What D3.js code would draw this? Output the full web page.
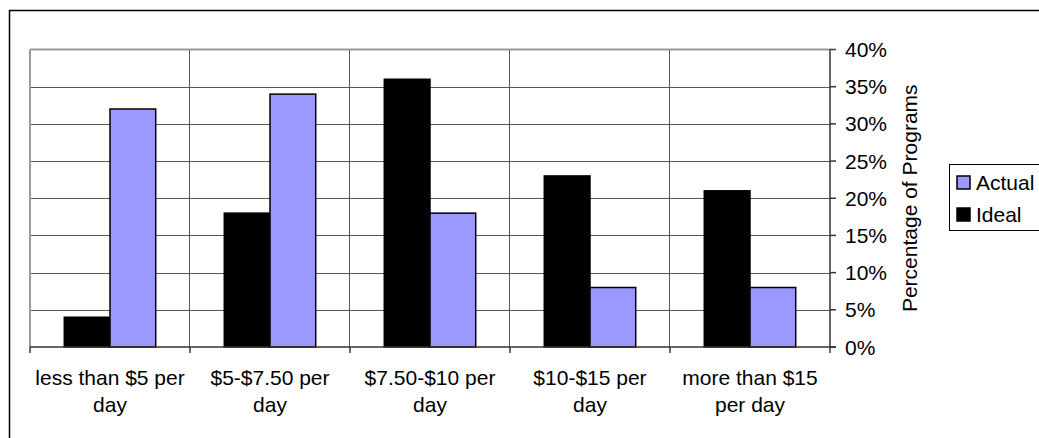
<!DOCTYPE html>
<html>
<head>
<meta charset="utf-8">
<script src="https://cdn.jsdelivr.net/npm/d3@7"></script>
<style>
  body { margin: 0; background: #fff; }
  text { font-family: "Liberation Sans", Arial, sans-serif; fill: #000; }
</style>
</head>
<body>
<div id="chart"></div>
<script>
// data
const categories = ["less than $5 per day", "$5-$7.50 per day", "$7.50-$10 per day", "$10-$15 per day", "more than $15 per day"];
const categoryLines = [["less than $5 per", "day"], ["$5-$7.50 per", "day"], ["$7.50-$10 per", "day"], ["$10-$15 per", "day"], ["more than $15", "per day"]];
const series = ["Ideal", "Actual"];
const idealValues = [0.04, 0.18, 0.36, 0.23, 0.21];
const actualValues = [0.32, 0.34, 0.18, 0.08, 0.08];
const yTicks = [0, 0.05, 0.1, 0.15, 0.2, 0.25, 0.3, 0.35, 0.4];
const legendItems = ["Actual", "Ideal"];

const width = 1039;
const height = 438;
const colors = { Ideal: "#000000", Actual: "#9999ff" };
const fontSize = "21px";

const svg = d3.select("#chart").append("svg")
  .attr("width", width)
  .attr("height", height);

// outer chart border (runs off the right / bottom edges)
svg.append("rect")
  .attr("x", 9.5).attr("y", 10.5)
  .attr("width", 1040).attr("height", 440)
  .attr("fill", "none").attr("stroke", "#000").attr("stroke-width", 1.5);

const plotLeft = 30, plotRight = 830, plotTop = 49.5, plotBottom = 347;

const x0 = d3.scaleBand().domain(categories).range([plotLeft, plotRight]).padding(0);
const x1 = d3.scaleBand().domain(series).range([0, x0.bandwidth()]).paddingInner(0).paddingOuter(0.75);
const y = d3.scaleLinear().domain([0, 0.4]).range([plotBottom, plotTop]);

// horizontal gridlines
svg.append("g")
  .selectAll("line")
  .data(yTicks.slice(1, -1))
  .enter().append("line")
  .attr("x1", plotLeft).attr("x2", plotRight)
  .attr("y1", d => Math.round(y(d)) + 0.5).attr("y2", d => Math.round(y(d)) + 0.5)
  .attr("stroke", "#555").attr("stroke-width", 1);

// vertical dividers between categories
svg.append("g")
  .selectAll("line")
  .data(categories.slice(1))
  .enter().append("line")
  .attr("x1", d => Math.round(x0(d)) - 0.5).attr("x2", d => Math.round(x0(d)) - 0.5)
  .attr("y1", plotTop).attr("y2", plotBottom)
  .attr("stroke", "#555").attr("stroke-width", 1);

// plot area border, left and top are gray
svg.append("line")
  .attr("x1", plotLeft).attr("x2", plotRight)
  .attr("y1", plotTop).attr("y2", plotTop)
  .attr("stroke", "#999").attr("stroke-width", 2);
svg.append("line")
  .attr("x1", plotLeft).attr("x2", plotLeft)
  .attr("y1", plotTop).attr("y2", plotBottom)
  .attr("stroke", "#999").attr("stroke-width", 2);

// bars
const rows = categories.map((c, i) => ({ cat: c, Ideal: idealValues[i], Actual: actualValues[i] }));
svg.append("g")
  .selectAll("g")
  .data(rows)
  .enter().append("g")
  .attr("transform", d => "translate(" + x0(d.cat) + ",0)")
  .selectAll("rect")
  .data(d => series.map(s => ({ key: s, value: d[s] })))
  .enter().append("rect")
  .attr("x", d => x1(d.key))
  .attr("y", d => y(d.value))
  .attr("width", x1.bandwidth())
  .attr("height", d => plotBottom - y(d.value))
  .attr("fill", d => colors[d.key])
  .attr("stroke", "#000")
  .attr("stroke-width", 1.5);

// right axis
const yAxis = svg.append("g");
yAxis.append("line")
  .attr("x1", plotRight).attr("x2", plotRight)
  .attr("y1", plotTop).attr("y2", plotBottom)
  .attr("stroke", "#333").attr("stroke-width", 1.5);
yAxis.selectAll(".tick")
  .data(yTicks)
  .enter().append("line")
  .attr("x1", plotRight).attr("x2", plotRight + 6)
  .attr("y1", d => y(d)).attr("y2", d => y(d))
  .attr("stroke", "#333").attr("stroke-width", 1.5);
yAxis.selectAll("text")
  .data(yTicks)
  .enter().append("text")
  .attr("x", 845)
  .attr("y", d => y(d))
  .attr("dy", "0.36em")
  .style("font-size", fontSize)
  .text(d3.format(".0%"));

svg.append("text")
  .attr("transform", "translate(917," + ((plotTop + plotBottom) / 2) + ") rotate(-90)")
  .attr("text-anchor", "middle")
  .style("font-size", fontSize)
  .text("Percentage of Programs");

// bottom axis
const xAxis = svg.append("g");
xAxis.append("line")
  .attr("x1", plotLeft).attr("x2", plotRight + 6)
  .attr("y1", plotBottom).attr("y2", plotBottom)
  .attr("stroke", "#333").attr("stroke-width", 1.5);
xAxis.selectAll(".tick")
  .data(categories.map(c => x0(c)).concat([plotRight]))
  .enter().append("line")
  .attr("x1", d => d).attr("x2", d => d)
  .attr("y1", plotBottom).attr("y2", plotBottom + 6)
  .attr("stroke", "#333").attr("stroke-width", 1.5);
const labels = xAxis.selectAll("text")
  .data(categories)
  .enter().append("text")
  .attr("text-anchor", "middle")
  .style("font-size", fontSize);
labels.selectAll("tspan")
  .data((d, i) => categoryLines[i].map(l => ({ line: l, x: x0(d) + x0.bandwidth() / 2 })))
  .enter().append("tspan")
  .attr("x", d => d.x)
  .attr("y", (d, j) => 385 + j * 27)
  .text(d => d.line);

// legend
const legend = svg.append("g");
legend.append("rect")
  .attr("x", 949.5).attr("y", 164.5)
  .attr("width", 100).attr("height", 66)
  .attr("fill", "#fff").attr("stroke", "#000").attr("stroke-width", 1);
legendItems.forEach(function (s, i) {
  legend.append("rect")
    .attr("x", 957).attr("y", 176 + i * 32)
    .attr("width", 13).attr("height", 13)
    .attr("fill", colors[s]).attr("stroke", "#000").attr("stroke-width", 1.5);
  legend.append("text")
    .attr("x", 976).attr("y", 182.5 + i * 32)
    .attr("dy", "0.36em")
    .style("font-size", fontSize)
    .text(s);
});
</script>
</body>
</html>
